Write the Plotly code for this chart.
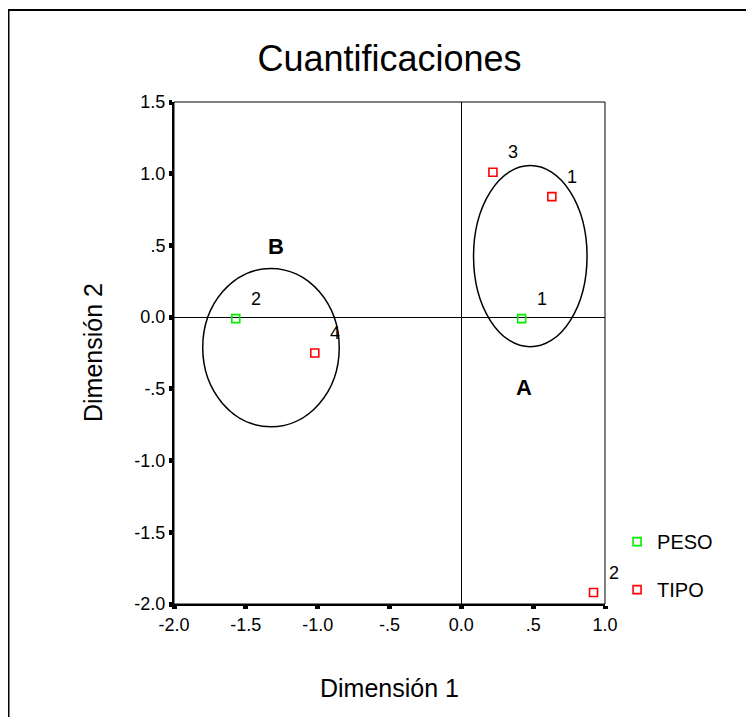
import plotly.graph_objects as go

# ---- data ----
peso_labels = ["1", "2"]
peso_x = [0.42, -1.57]
peso_y = [-0.01, -0.01]

tipo_labels = ["1", "2", "3", "4"]
tipo_x = [0.63, 0.92, 0.22, -1.02]
tipo_y = [0.84, -1.92, 1.01, -0.25]

# ellipses (group regions): name, x0, x1, y0, y1
group_names = ["A", "B"]
ellipse_x0 = [0.085, -1.80]
ellipse_x1 = [0.875, -0.85]
ellipse_y0 = [-0.207, -0.765]
ellipse_y1 = [1.057, 0.34]
group_label_x = [0.436, -1.29]
group_label_y = [-0.488, 0.49]

x_tickvals = [-2.0, -1.5, -1.0, -0.5, 0.0, 0.5, 1.0]
x_ticktext = ["-2.0", "-1.5", "-1.0", "-.5", "0.0", ".5", "1.0"]
y_tickvals = [-2.0, -1.5, -1.0, -0.5, 0.0, 0.5, 1.0, 1.5]
y_ticktext = ["-2.0", "-1.5", "-1.0", "-.5", "0.0", ".5", "1.0", "1.5"]

FONT = "Arial, Liberation Sans, sans-serif"

W, H = 746, 709
L, R, T, B = 166, 149, 94, 113
PW = W - L - R
PH = H - T - B

fig = go.Figure()
fig.add_trace(go.Scatter(
    x=peso_x, y=peso_y, mode="markers", name="PESO", legendgroup="peso",
    marker=dict(symbol="square-open", size=8, color="#00EE00", line=dict(width=1.6)),
    cliponaxis=False))
fig.add_trace(go.Scatter(
    x=tipo_x, y=tipo_y, mode="markers", name="TIPO", legendgroup="tipo",
    marker=dict(symbol="square-open", size=8, color="#FF0000", line=dict(width=1.6)),
    cliponaxis=False))

annotations = []
for lx, ly, lt in list(zip(peso_x, peso_y, peso_labels)) + list(zip(tipo_x, tipo_y, tipo_labels)):
    annotations.append(dict(x=lx, y=ly, text=lt, showarrow=False, xshift=20, yshift=20,
                            font=dict(family=FONT, size=18, color="black")))
for gx, gy, gn in zip(group_label_x, group_label_y, group_names):
    annotations.append(dict(x=gx, y=gy, text="<b>%s</b>" % gn, showarrow=False,
                            font=dict(family=FONT, size=22, color="black")))
# axis titles
annotations.append(dict(xref="paper", yref="paper", x=0.5, y=-84 / PH, yanchor="middle",
                        text="Dimensión 1", showarrow=False,
                        font=dict(family=FONT, size=25, color="black")))
annotations.append(dict(xref="paper", yref="paper", x=-81 / PW, y=0.5, xanchor="center",
                        text="Dimensión 2", textangle=-90, showarrow=False,
                        font=dict(family=FONT, size=25, color="black")))

shapes = []
for x0, x1, y0, y1 in zip(ellipse_x0, ellipse_x1, ellipse_y0, ellipse_y1):
    shapes.append(dict(type="circle", xref="x", yref="y", x0=x0, x1=x1, y0=y0, y1=y1,
                       line=dict(color="black", width=1.5)))
# plot box (thin top/right)
shapes.append(dict(type="rect", xref="paper", yref="paper", x0=0, x1=1, y0=0, y1=1,
                   line=dict(color="black", width=1)))
# outer frame
shapes.append(dict(type="rect", xref="paper", yref="paper",
                   x0=(0.5 - L) / PW, x1=(744.5 - L) / PW,
                   y0=-(H + 20 - T - PH) / PH, y1=(T + PH - 2) / PH,
                   line=dict(color="black", width=2)))

fig.update_layout(
    width=W, height=H,
    margin=dict(l=L, r=R, t=T, b=B),
    paper_bgcolor="white", plot_bgcolor="white",
    font=dict(family=FONT, color="black"),
    title=dict(text="Cuantificaciones", x=0.5, xref="paper", y=1 - 50 / H,
               yref="container", yanchor="middle", xanchor="center",
               font=dict(family=FONT, size=36, color="black")),
    xaxis=dict(range=[-2.0, 1.0], tickvals=x_tickvals, ticktext=x_ticktext,
               showgrid=False, zeroline=True, zerolinecolor="black", zerolinewidth=1,
               showline=True, linecolor="black", linewidth=2, mirror=False,
               ticks="outside", ticklen=3, tickwidth=5, tickcolor="black",
               tickfont=dict(family=FONT, size=18, color="black")),
    yaxis=dict(range=[-2.0, 1.5], tickvals=y_tickvals, ticktext=y_ticktext,
               showgrid=False, zeroline=True, zerolinecolor="black", zerolinewidth=1,
               showline=True, linecolor="black", linewidth=2, mirror=False,
               ticks="outside", ticklen=3, tickwidth=5, tickcolor="black",
               tickfont=dict(family=FONT, size=18, color="black")),
    showlegend=True,
    legend=dict(x=1.028, y=0.163, xanchor="left", yanchor="top",
                font=dict(family=FONT, size=20, color="black"),
                tracegroupgap=19, bgcolor="rgba(0,0,0,0)"),
    annotations=annotations,
    shapes=shapes,
)

fig.write_html("out.html")
